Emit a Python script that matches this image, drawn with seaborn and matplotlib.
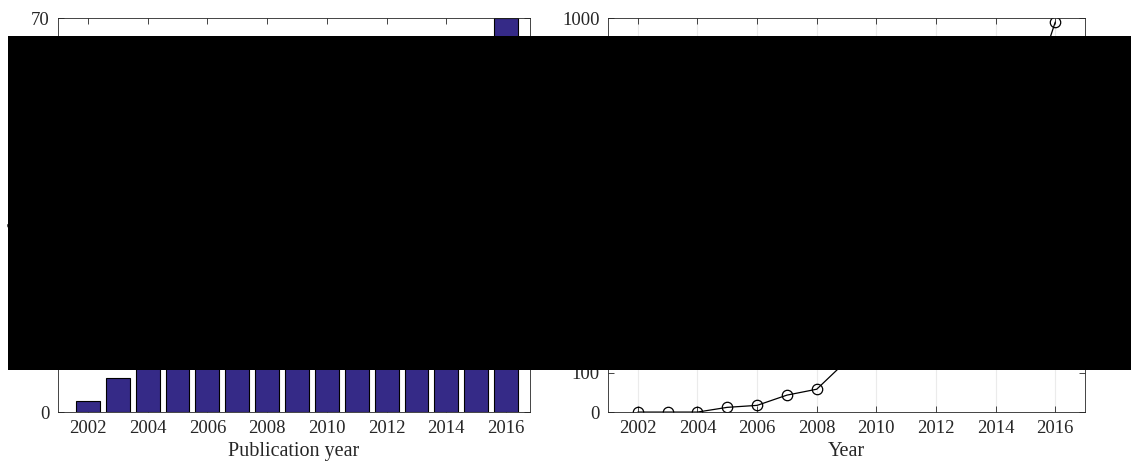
import matplotlib
matplotlib.use("Agg")
import matplotlib.pyplot as plt
import matplotlib.patches as mpatches
import pandas as pd
import seaborn as sns

# publications per year (2004-2015 are hidden in the reference, rough guesses)
years = [2002, 2003, 2004, 2005, 2006, 2007, 2008, 2009,
         2010, 2011, 2012, 2013, 2014, 2015, 2016]
publications = [2, 6, 9, 10, 12, 14, 17, 20, 24, 28, 33, 40, 48, 56, 70]
# citations per year (2009-2015 hidden, rough guesses)
citations = [0, 0, 0, 12, 17, 43, 58, 130, 190, 260, 360, 470, 600, 760, 990]
xticks = [2002, 2004, 2006, 2008, 2010, 2012, 2014, 2016]

sns.set_theme(style="ticks")
plt.rcParams['font.family'] = ['Liberation Serif', 'DejaVu Serif']
plt.rcParams['font.size'] = 13.5
plt.rcParams['axes.edgecolor'] = '#262626'
plt.rcParams['xtick.direction'] = 'in'
plt.rcParams['ytick.direction'] = 'in'
plt.rcParams['xtick.color'] = '#262626'
plt.rcParams['ytick.color'] = '#262626'

df = pd.DataFrame({'year': years, 'pubs': publications, 'cites': citations})

fig = plt.figure(figsize=(11.31, 4.63), dpi=100)
ax1 = fig.add_axes([0.0513, 0.110, 0.4173, 0.851])
ax2 = fig.add_axes([0.5376, 0.110, 0.4218, 0.851])

sns.barplot(data=df, x='year', y='pubs', native_scale=True, width=0.8,
            color='#352a87', saturation=1, edgecolor='black', linewidth=0.8, ax=ax1)
ax1.set_xlim(2001, 2016.8)
ax1.set_ylim(0, 70)
ax1.set_xticks(xticks)
ax1.set_xticklabels([str(t) for t in xticks])
ax1.set_yticks(range(0, 71, 10))
ax1.set_xlabel('Publication year', fontsize=14.5, labelpad=3)
ax1.set_ylabel('Number of publications', fontsize=14.5)
ax1.yaxis.set_label_coords(-0.063, 0.5)

sns.lineplot(data=df, x='year', y='cites', color='black', linewidth=0.9,
             marker='o', markersize=7.5, markerfacecolor='none',
             markeredgecolor='black', markeredgewidth=0.9, ax=ax2)
ax2.set_xlim(2001, 2017)
ax2.set_ylim(0, 1000)
ax2.set_xticks(xticks)
ax2.set_xticklabels([str(t) for t in xticks])
ax2.set_yticks(range(0, 1001, 100))
ax2.grid(axis='x', color='#ebebeb', linewidth=0.8)
ax2.set_xlabel('Year', fontsize=14.5, labelpad=3)
ax2.set_ylabel('Number of citations', fontsize=14.5)

for ax in (ax1, ax2):
    ax.tick_params(top=True, right=True, length=4, width=0.6, labelsize=13.5, pad=6)
    for s in ax.spines.values():
        s.set_visible(True)
        s.set_linewidth(0.6)
    ax.set_axisbelow(True)

# redaction block present in the reference image
fig.patches.append(mpatches.Rectangle((8 / 1131, 1 - 370 / 463), 1 - 8 / 1131,
                                      (370 - 36) / 463, transform=fig.transFigure,
                                      facecolor='black', edgecolor='none', zorder=10))

fig.savefig('out.png', dpi=100)
